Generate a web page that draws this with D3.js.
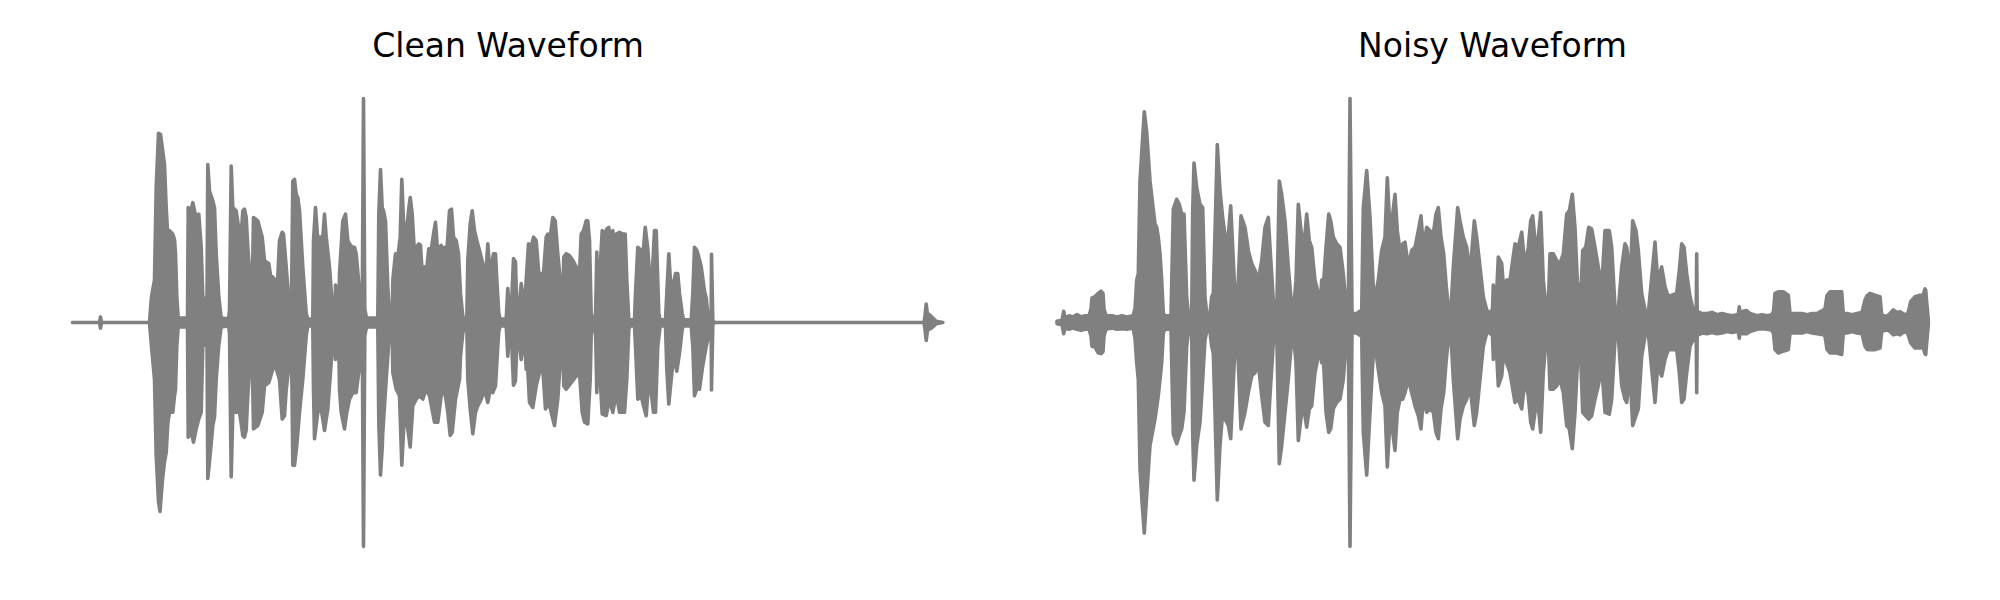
<!DOCTYPE html>
<html>
<head>
<meta charset="utf-8">
<script src="https://cdn.jsdelivr.net/npm/d3@7"></script>
<style>
  html, body { margin: 0; padding: 0; background: #ffffff; }
  svg { display: block; }
</style>
</head>
<body>
<script>
// ---------------- DATA (envelope of each waveform: [frame, amplitude]) ----------------
const titles = ["Clean Waveform", "Noisy Waveform"];
const frameCount = 871;

const cleanUpper = [[0,0],[27,0],[28,0.025],[29,0],[77,0],[79,0.115],[82,0.189],[83.7,0.602],[86,0.845],[88,0.84],[92,0.705],[93.7,0.513],[95.3,0.381],[97,0.41],[100.3,0.395],[102,0.37],[103,0.307],[104.3,0.115],[105.7,0.02],[115,0.02],[115.7,0.513],[117.7,0.484],[120.3,0.535],[122,0.499],[123.7,0.469],[126.3,0.484],[128.7,0.336],[130.3,0.115],[133,0.1],[134.5,0.1],[135.3,0.705],[137,0.587],[140.3,0.543],[142,0.513],[143.7,0.307],[146.3,0.115],[148.7,0.02],[156,0.015],[157,0.056],[158.7,0.698],[160.3,0.513],[163.7,0.499],[167,0.395],[168.7,0.388],[170.3,0.499],[172,0.506],[173.7,0.469],[175.3,0.336],[178.7,0.13],[179.5,0.1],[181,0.469],[185.3,0.454],[187,0.425],[189.7,0.381],[192,0.277],[193.7,0.27],[196.3,0.263],[198.7,0.189],[200.3,0.204],[203,0.174],[205.3,0.204],[207,0.366],[209.7,0.403],[211,0.395],[213.7,0.248],[215.7,0.13],[217,0.056],[218.7,0.03],[219.5,0.3],[220.3,0.631],[222,0.639],[223.7,0.572],[225.3,0.558],[227,0.499],[230.3,0.248],[233.7,0.041],[235.3,0.015],[240.3,0.015],[241,0.366],[243,0.513],[245.3,0.366],[247,0.381],[250.3,0.381],[252,0.484],[253.7,0.381],[257,0.248],[260.3,0.041],[262.3,0.02],[263,0.167],[264.3,0.02],[266,0.02],[267,0.218],[270.3,0.454],[273,0.484],[275.3,0.366],[277,0.351],[279.7,0.336],[282,0.336],[283.7,0.307],[286,0.189],[288.7,0.041],[289.7,0.02],[291,1.0],[292.3,0.06],[294,0.02],[305.3,0.02],[306.3,0.484],[308,0.683],[309.7,0.513],[311,0.499],[313,0.454],[315.3,0.159],[317,0.03],[318,0.015],[319.7,0.015],[320.3,0.189],[323,0.307],[325.3,0.292],[327.7,0.381],[329.3,0.639],[331,0.454],[333.7,0.381],[336,0.499],[337.7,0.558],[339.7,0.484],[342,0.307],[343.7,0.336],[346.3,0.351],[348,0.344],[349.7,0.218],[352,0.248],[353.7,0.218],[356.3,0.329],[358.7,0.322],[361,0.395],[363,0.447],[365.3,0.307],[367,0.336],[368.7,0.344],[370.3,0.307],[372,0.336],[373.7,0.277],[375.3,0.381],[377,0.499],[379,0.506],[381,0.381],[383.7,0.366],[386,0.307],[388,0.13],[390.3,0.027],[392,0.015],[394.3,0.015],[395.3,0.277],[397.7,0.44],[399.7,0.499],[402,0.41],[404.3,0.366],[407,0.322],[410.3,0.263],[413,0.189],[415.3,0.351],[417,0.248],[418.7,0.248],[421,0.307],[423,0.307],[424.3,0.189],[426.3,0.041],[427.7,0.015],[433.7,0.015],[435.3,0.152],[437,0.03],[438.7,0.041],[441,0.285],[443,0.27],[444.3,0.06],[446.3,0.041],[448.7,0.174],[450.3,0.115],[452,0.06],[453.7,0.189],[456,0.351],[458.7,0.336],[461,0.381],[463.7,0.366],[466.3,0.218],[468.7,0.218],[471,0.218],[473.7,0.381],[475.3,0.395],[477.7,0.381],[480.3,0.469],[482.7,0.454],[485.3,0.307],[487.7,0.189],[489.7,0.012],[491.3,0.292],[493.7,0.307],[497,0.299],[500.3,0.277],[503.7,0.248],[507,0.218],[508.7,0.395],[511,0.41],[513.7,0.454],[515.3,0.454],[517,0.366],[518.7,0.041],[520.3,0.015],[523,0.02],[524.3,0.314],[525.7,0.06],[527,0.189],[529.7,0.41],[532,0.395],[534.3,0.417],[536.3,0.425],[538.7,0.336],[540.3,0.41],[542,0.329],[543.7,0.395],[547,0.403],[550.3,0.395],[552.7,0.395],[554.3,0.189],[556.3,0.012],[562,0.012],[563,0.13],[565.3,0.336],[568.7,0.322],[570.3,0.292],[572.7,0.425],[575.3,0.329],[577,0.218],[579.7,0.204],[582,0.41],[583.7,0.41],[586.3,0.041],[587.7,0.012],[593,0.012],[594.3,0.13],[596.3,0.307],[598.7,0.13],[600.3,0.159],[603,0.218],[605.3,0.218],[607,0.13],[609.7,0.041],[611,0.012],[618.7,0.012],[620.3,0.13],[622,0.336],[624.3,0.322],[626.3,0.292],[628.7,0.25],[632,0.14],[633.7,0.11],[635.3,0.041],[638.7,0.02],[639,0.304],[640.3,0.01],[642,0],[851.5,0],[852.5,0.03],[853.7,0.082],[855,0.035],[857,0.035],[860.3,0.02],[863.7,0.005],[870.3,0]];

const cleanLower = [[0,0],[27,0],[28,-0.025],[29,0],[77,0],[79,-0.106],[82,-0.254],[83.7,-0.593],[86,-0.8],[87.5,-0.844],[90,-0.7],[92,-0.622],[93.7,-0.58],[95.3,-0.45],[97,-0.401],[100.3,-0.401],[102,-0.327],[103,-0.3],[104.3,-0.106],[105.7,-0.02],[115,-0.02],[115.7,-0.512],[118.7,-0.49],[121,-0.534],[123.7,-0.475],[126.3,-0.43],[128.7,-0.401],[130.3,-0.106],[133,-0.1],[134.5,-0.1],[135.3,-0.696],[137,-0.622],[140.3,-0.46],[142,-0.42],[143.7,-0.254],[146.3,-0.1],[148.7,-0.02],[156,-0.015],[157,-0.047],[158.7,-0.689],[160.3,-0.401],[163.7,-0.401],[167,-0.401],[168.7,-0.45],[170.3,-0.504],[172,-0.512],[173.7,-0.48],[175.3,-0.327],[178.7,-0.106],[179.5,-0.1],[181,-0.475],[185.3,-0.46],[189.7,-0.401],[192,-0.283],[196.3,-0.268],[200.3,-0.209],[203,-0.195],[207,-0.254],[209.7,-0.431],[212,-0.416],[213.7,-0.3],[215.7,-0.224],[217,-0.1],[218.7,-0.04],[219.5,-0.3],[220.3,-0.637],[222,-0.637],[224.3,-0.549],[227,-0.401],[230.3,-0.254],[233.7,-0.06],[235.3,-0.015],[240.3,-0.015],[241,-0.3],[242,-0.519],[245.3,-0.401],[248.7,-0.386],[252,-0.482],[255.3,-0.386],[258.7,-0.18],[261,-0.047],[262.3,-0.02],[263,-0.165],[264.3,-0.02],[266,-0.02],[267,-0.3],[268.7,-0.401],[272,-0.475],[274.3,-0.401],[277,-0.342],[280.3,-0.313],[283.7,-0.313],[287,-0.195],[288.7,-0.06],[289.7,-0.02],[291,-1.0],[292.3,-0.06],[294,-0.02],[305.3,-0.02],[306.3,-0.45],[308,-0.681],[309.7,-0.56],[310.3,-0.49],[313.7,-0.254],[317,-0.047],[318,-0.015],[319.7,-0.015],[320.3,-0.224],[323.7,-0.298],[327,-0.327],[329.3,-0.637],[332,-0.401],[335.3,-0.475],[337.7,-0.556],[340.3,-0.372],[343.7,-0.342],[347,-0.327],[350.3,-0.342],[353.7,-0.298],[357,-0.327],[362,-0.445],[365.3,-0.445],[368.7,-0.327],[372,-0.298],[375.3,-0.401],[377.7,-0.504],[379.7,-0.49],[383,-0.342],[387,-0.254],[388,-0.15],[390.3,-0.047],[392,-0.015],[394.3,-0.015],[395.3,-0.254],[397.7,-0.386],[400.3,-0.497],[403,-0.401],[405.3,-0.372],[408.7,-0.342],[412,-0.298],[415.3,-0.357],[417.7,-0.298],[420.3,-0.313],[423,-0.283],[425.3,-0.106],[426.3,-0.04],[427.7,-0.015],[433.7,-0.015],[435.3,-0.15],[437,-0.03],[438.7,-0.04],[441,-0.28],[443,-0.26],[444.3,-0.1],[446.3,-0.06],[448.7,-0.165],[450.3,-0.1],[452,-0.06],[453.7,-0.209],[455.3,-0.209],[457,-0.357],[460.3,-0.379],[463.7,-0.283],[467,-0.224],[470.3,-0.209],[473,-0.386],[476.3,-0.357],[478.7,-0.401],[482,-0.46],[485.3,-0.342],[488.7,-0.106],[489.7,-0.02],[491.3,-0.283],[493.7,-0.298],[498.7,-0.268],[503.7,-0.239],[507,-0.224],[509.7,-0.401],[512,-0.445],[515.3,-0.453],[517.7,-0.254],[518.7,-0.06],[520.3,-0.02],[523,-0.02],[524.3,-0.313],[525.7,-0.06],[527,-0.195],[529.7,-0.409],[533.7,-0.416],[537,-0.342],[540.3,-0.401],[543.7,-0.313],[547,-0.401],[552,-0.401],[554.3,-0.254],[556.3,-0.03],[557.7,-0.015],[562,-0.015],[563,-0.106],[565.3,-0.342],[568.7,-0.327],[571,-0.372],[573.7,-0.416],[576.3,-0.254],[578.7,-0.313],[581,-0.401],[583,-0.401],[585.3,-0.106],[587.7,-0.015],[593,-0.015],[594.3,-0.209],[596.3,-0.364],[599.7,-0.209],[602,-0.165],[604.3,-0.217],[607,-0.136],[609.7,-0.03],[611,-0.015],[618.7,-0.015],[620.3,-0.106],[622,-0.327],[625.3,-0.283],[627,-0.298],[630,-0.2],[633.7,-0.106],[635.3,-0.077],[638.7,-0.02],[639,-0.301],[640.3,-0.01],[642,0],[851.5,0],[852.5,-0.03],[853.7,-0.08],[855,-0.035],[857,-0.03],[860.3,-0.02],[863.7,-0.005],[870.3,0]];

const noisyUpper = [[0,0.005],[5,0.01],[6.7,0.05],[8,0.02],[12,0.03],[16,0.025],[20,0.035],[24,0.025],[28,0.03],[32,0.03],[34,0.06],[35,0.11],[38,0.115],[41,0.13],[44,0.14],[46,0.13],[47,0.06],[49,0.03],[55,0.03],[60,0.025],[65,0.03],[70,0.025],[76,0.03],[78,0.06],[79.7,0.189],[81.3,0.218],[83,0.632],[86,0.85],[87.3,0.941],[89.7,0.85],[93,0.632],[98,0.44],[99.7,0.425],[101.3,0.38],[103,0.307],[104.7,0.189],[106.3,0.04],[108,0.03],[114,0.03],[115.3,0.3],[116.3,0.506],[119.7,0.55],[122.3,0.528],[124.7,0.484],[127,0.484],[129.7,0.115],[131.3,0.04],[134.7,0.04],[135.7,0.5],[137,0.712],[139.7,0.602],[143,0.528],[145.7,0.513],[148,0.115],[149.7,0.04],[153,0.04],[154.7,0.115],[156.3,0.13],[158,0.4],[160.3,0.794],[163,0.587],[165.7,0.469],[168,0.388],[171.3,0.388],[173.7,0.521],[175.7,0.336],[178,0.115],[179.7,0.04],[181.3,0.189],[184,0.476],[188,0.425],[191.3,0.322],[194.7,0.263],[198,0.233],[201.3,0.189],[204.7,0.277],[208,0.425],[211.3,0.469],[213,0.336],[216.3,0.1],[218,0.04],[220,0.1],[222.3,0.631],[224.7,0.572],[228,0.454],[231.3,0.248],[234.7,0.07],[236.3,0.04],[239,0.189],[241.3,0.528],[244.7,0.381],[248,0.395],[249.7,0.484],[252.3,0.366],[254.7,0.336],[258,0.189],[261.3,0.13],[264,0.13],[264.7,0.19],[265.5,0.13],[266.3,0.159],[269,0.336],[271.7,0.484],[273.7,0.454],[276.3,0.381],[279.7,0.351],[283,0.336],[286.3,0.218],[289,0.085],[291.3,0.04],[293,1.0],[295,0.04],[299.7,0.04],[304.7,0.056],[306.3,0.513],[309.7,0.678],[313,0.469],[316.3,0.159],[319,0.13],[321.3,0.189],[324.7,0.322],[328,0.381],[330.3,0.646],[333,0.41],[335.7,0.484],[338,0.572],[340.3,0.41],[343,0.322],[345.7,0.351],[348,0.359],[351.3,0.248],[354.7,0.322],[358,0.336],[361.3,0.41],[364,0.476],[366.3,0.336],[369.7,0.425],[373,0.41],[376.3,0.395],[379,0.484],[381.3,0.513],[384,0.381],[386.7,0.307],[389.3,0.159],[391.7,0.056],[394,0.056],[396.3,0.248],[400.7,0.513],[403,0.454],[406.3,0.381],[409.7,0.336],[413,0.218],[417.3,0.454],[419.7,0.381],[423,0.248],[426.3,0.115],[429.7,0.056],[433,0.04],[435.5,0.06],[436.3,0.167],[437.2,0.06],[439,0.07],[441.3,0.292],[444.7,0.263],[447,0.13],[449.7,0.189],[453,0.189],[458,0.351],[461.3,0.336],[464.7,0.403],[468,0.248],[471.3,0.336],[473.7,0.454],[475.7,0.476],[478,0.366],[480.7,0.351],[483.7,0.491],[486.3,0.189],[489.7,0.04],[491.5,0.1],[493,0.307],[496.3,0.307],[499.7,0.277],[503,0.263],[506.3,0.307],[509.7,0.484],[512.3,0.499],[515.3,0.572],[518,0.425],[520.3,0.189],[523,0.04],[525.7,0.322],[528.7,0.336],[531.7,0.425],[534.7,0.417],[538,0.336],[541.3,0.248],[544.7,0.159],[548,0.41],[552.3,0.41],[554.7,0.336],[558,0.07],[561.3,0.056],[564.7,0.248],[568,0.351],[569.7,0.336],[573,0.189],[575.7,0.454],[579,0.41],[581.3,0.322],[584.7,0.13],[588,0.056],[591.3,0.04],[595.7,0.248],[598,0.359],[600.7,0.189],[604.7,0.248],[608,0.159],[611.3,0.115],[614.7,0.122],[619.7,0.13],[622.3,0.233],[624.7,0.351],[627,0.336],[629.7,0.218],[633,0.115],[636.3,0.056],[639.2,0.04],[639.7,0.307],[640.2,0.04],[641.3,0.048],[645,0.04],[650,0.04],[655,0.045],[660,0.035],[665,0.04],[670,0.035],[675,0.03],[680,0.035],[681.5,0.04],[682.3,0.07],[683,0.04],[686,0.05],[689.7,0.053],[693,0.04],[700,0.03],[705,0.035],[710,0.03],[715,0.035],[716.5,0.05],[718,0.13],[721.3,0.137],[726.3,0.137],[731.3,0.122],[733,0.04],[740,0.04],[745,0.04],[750,0.035],[755,0.04],[760,0.04],[766.3,0.056],[768,0.06],[770,0.12],[773,0.137],[779.7,0.137],[784.7,0.137],[786.3,0.04],[790,0.04],[795,0.035],[800,0.04],[805,0.045],[808,0.1],[810,0.12],[813,0.13],[818,0.122],[823,0.115],[824.7,0.033],[829.7,0.027],[833,0.04],[836.3,0.056],[840,0.045],[843,0.048],[846,0.04],[849.7,0.033],[851.5,0.05],[853.7,0.093],[858,0.115],[863,0.122],[866,0.12],[868,0.15],[868.7,0.145],[869.5,0.1],[871.3,0.012]];

const noisyLower = [[0,-0.005],[5,-0.01],[6.7,-0.05],[8,-0.025],[12,-0.03],[16,-0.025],[20,-0.03],[24,-0.035],[28,-0.03],[32,-0.03],[34,-0.06],[35,-0.106],[38,-0.11],[41,-0.135],[44,-0.139],[46,-0.13],[47,-0.06],[49,-0.03],[55,-0.025],[60,-0.03],[65,-0.028],[70,-0.03],[76,-0.025],[78,-0.07],[79.7,-0.18],[81.3,-0.254],[83,-0.65],[85,-0.8],[87.3,-0.94],[89.7,-0.77],[93,-0.549],[98,-0.431],[101.3,-0.327],[104.7,-0.18],[106.3,-0.047],[108,-0.03],[114,-0.03],[115.3,-0.3],[116.3,-0.497],[119.7,-0.541],[122.3,-0.504],[124.7,-0.475],[127,-0.401],[129.7,-0.106],[131.3,-0.047],[134.7,-0.047],[135.7,-0.5],[137,-0.704],[139.7,-0.549],[143,-0.445],[145.7,-0.254],[148,-0.077],[149.7,-0.04],[153,-0.04],[154.7,-0.106],[156.3,-0.136],[158,-0.4],[160.3,-0.792],[163,-0.549],[165.7,-0.401],[168,-0.431],[171.3,-0.46],[173.7,-0.519],[175.7,-0.327],[178,-0.106],[179.7,-0.047],[181.3,-0.18],[184,-0.475],[188,-0.401],[191.3,-0.313],[194.7,-0.239],[198,-0.224],[201.3,-0.18],[204.7,-0.327],[208,-0.445],[211.3,-0.46],[213,-0.327],[216.3,-0.091],[218,-0.047],[220,-0.1],[222.3,-0.63],[224.7,-0.549],[228,-0.401],[231.3,-0.254],[234.7,-0.077],[236.3,-0.047],[239,-0.18],[241.3,-0.527],[244.7,-0.401],[248,-0.416],[249.7,-0.467],[252.3,-0.386],[254.7,-0.372],[258,-0.224],[261.3,-0.15],[264,-0.15],[264.7,-0.18],[265.5,-0.15],[266.3,-0.15],[269,-0.401],[271.7,-0.49],[273.7,-0.475],[276.3,-0.386],[279.7,-0.357],[283,-0.342],[286.3,-0.254],[289,-0.091],[291.3,-0.047],[293,-1.0],[295,-0.047],[299.7,-0.047],[304.7,-0.062],[306.3,-0.49],[309.7,-0.681],[313,-0.401],[316.3,-0.136],[319,-0.136],[321.3,-0.209],[324.7,-0.313],[328,-0.372],[330.3,-0.645],[333,-0.431],[335.7,-0.49],[338,-0.571],[340.3,-0.401],[343,-0.342],[345.7,-0.342],[348,-0.313],[351.3,-0.254],[354.7,-0.313],[358,-0.372],[361.3,-0.416],[364,-0.475],[366.3,-0.342],[369.7,-0.401],[373,-0.386],[376.3,-0.401],[379,-0.49],[381.3,-0.519],[384,-0.386],[386.7,-0.313],[389.3,-0.165],[391.7,-0.062],[394,-0.062],[396.3,-0.254],[400.7,-0.519],[403,-0.431],[406.3,-0.372],[409.7,-0.342],[413,-0.283],[417.3,-0.46],[419.7,-0.401],[423,-0.254],[426.3,-0.106],[429.7,-0.047],[433,-0.047],[435.5,-0.06],[436.3,-0.165],[437.2,-0.06],[439,-0.077],[441.3,-0.283],[444.7,-0.239],[447,-0.121],[449.7,-0.18],[453,-0.224],[458,-0.357],[461.3,-0.342],[464.7,-0.386],[468,-0.254],[471.3,-0.327],[473.7,-0.445],[475.7,-0.475],[478,-0.401],[480.7,-0.342],[483.7,-0.49],[486.3,-0.224],[489.7,-0.047],[491.5,-0.1],[493,-0.298],[496.3,-0.298],[499.7,-0.283],[503,-0.254],[506.3,-0.313],[509.7,-0.46],[512.3,-0.475],[515.3,-0.563],[518,-0.401],[520.3,-0.195],[523,-0.062],[525.7,-0.401],[528.7,-0.416],[531.7,-0.431],[534.7,-0.416],[538,-0.342],[541.3,-0.283],[544.7,-0.195],[548,-0.401],[552.3,-0.409],[554.7,-0.342],[558,-0.077],[561.3,-0.062],[564.7,-0.283],[568,-0.342],[569.7,-0.357],[573,-0.224],[575.7,-0.46],[579,-0.416],[581.3,-0.386],[584.7,-0.15],[588,-0.062],[591.3,-0.047],[595.7,-0.254],[598,-0.357],[600.7,-0.195],[604.7,-0.239],[608,-0.165],[611.3,-0.121],[614.7,-0.121],[619.7,-0.121],[622.3,-0.224],[624.7,-0.357],[627,-0.342],[629.7,-0.224],[633,-0.106],[636.3,-0.077],[639.2,-0.047],[639.7,-0.313],[640.2,-0.047],[641.3,-0.055],[645,-0.047],[650,-0.05],[655,-0.045],[660,-0.05],[665,-0.047],[670,-0.04],[675,-0.045],[680,-0.04],[681.5,-0.045],[682.3,-0.07],[683,-0.045],[686,-0.05],[689.7,-0.05],[693,-0.04],[700,-0.03],[705,-0.028],[710,-0.03],[715,-0.035],[716.5,-0.05],[718,-0.121],[721.3,-0.136],[726.3,-0.128],[731.3,-0.121],[733,-0.047],[740,-0.047],[745,-0.047],[750,-0.04],[755,-0.047],[760,-0.05],[766.3,-0.055],[768,-0.06],[770,-0.12],[773,-0.136],[779.7,-0.136],[784.7,-0.143],[786.3,-0.047],[790,-0.047],[795,-0.04],[800,-0.047],[805,-0.05],[808,-0.106],[810,-0.12],[813,-0.121],[818,-0.121],[823,-0.114],[824.7,-0.04],[829.7,-0.033],[833,-0.04],[836.3,-0.055],[840,-0.05],[843,-0.055],[846,-0.045],[849.7,-0.04],[851.5,-0.06],[853.7,-0.091],[858,-0.114],[863,-0.114],[866,-0.11],[868,-0.14],[868.7,-0.143],[869.5,-0.1],[871.3,-0.012]];

// ---------------- DRAWING ----------------
const W = 2000, H = 600;
const waveColor = "#808080";

const svg = d3.select("body").append("svg")
  .attr("width", W).attr("height", H)
  .attr("viewBox", `0 0 ${W} ${H}`);

const panels = [
  { title: titles[0], upper: cleanUpper, lower: cleanLower, left: 72.5 },
  { title: titles[1], upper: noisyUpper, lower: noisyLower, left: 1057 }
];

const yScale = d3.scaleLinear().domain([-1, 1]).range([546.5, 98.5]);

panels.forEach(p => {
  const x = d3.scaleLinear().domain([0, frameCount]).range([p.left, p.left + frameCount]);
  const g = svg.append("g");

  const outline = p.upper.concat(p.lower.slice().reverse());
  const line = d3.line().x(d => x(d[0])).y(d => yScale(d[1]));

  g.append("path")
    .attr("d", line(outline) + "Z")
    .attr("fill", waveColor)
    .attr("stroke", waveColor)
    .attr("stroke-width", 3.6)
    .attr("stroke-linejoin", "round")
    .attr("stroke-linecap", "round");

  const xs = x.range();
  g.append("text")
    .attr("x", (xs[0] + xs[1]) / 2)
    .attr("y", 57)
    .attr("text-anchor", "middle")
    .attr("font-family", "DejaVu Sans, sans-serif")
    .attr("font-size", 33)
    .attr("fill", "#000000")
    .text(p.title);
});
</script>
</body>
</html>
